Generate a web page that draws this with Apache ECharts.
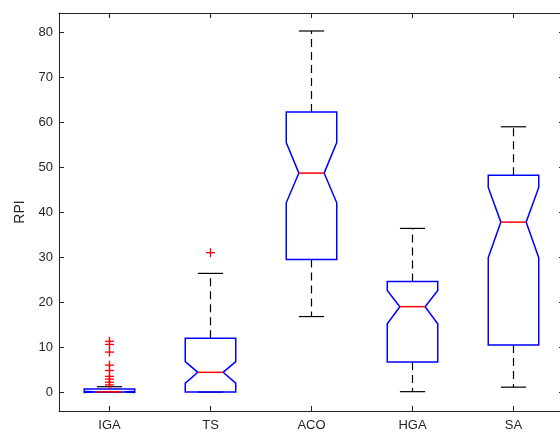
<!DOCTYPE html>
<html>
<head>
<meta charset="utf-8">
<script src="https://cdn.jsdelivr.net/npm/echarts@6/dist/echarts.min.js"></script>
<style>html,body{margin:0;padding:0;background:#fff}#c{width:560px;height:434px}</style>
</head>
<body>
<div id="c"></div>
<script>
const categories = ['IGA', 'TS', 'ACO', 'HGA', 'SA'];
const whiskerLow = [0, 0, 16.8, 0.1, 1.1];
const q1 = [0, 0, 29.5, 6.7, 10.5];
const notchLow = [-0.1, 2.0, 42.1, 15.2, 29.9];
const median = [0.05, 4.4, 48.7, 19.0, 37.8];
const notchHigh = [0.2, 6.8, 55.5, 22.6, 45.5];
const q3 = [0.7, 12.0, 62.3, 24.6, 48.2];
const whiskerHigh = [1.2, 26.4, 80.3, 36.4, 59.0];
const outlierCat = ['IGA','IGA','IGA','IGA','IGA','IGA','IGA','IGA','IGA','TS'];
const outlierVal = [11.3, 10.6, 8.9, 6.0, 4.8, 3.5, 2.9, 2.2, 1.6, 31.0];
const yTicks = [0, 10, 20, 30, 40, 50, 60, 70, 80];

const boxData = categories.map((c, i) => [i, whiskerLow[i], q1[i], notchLow[i], median[i], notchHigh[i], q3[i], whiskerHigh[i]]);
const outData = outlierCat.map((c, i) => [categories.indexOf(c), outlierVal[i]]);

const axisColor = '#262626';
const font = 'Liberation Sans, Arial, Helvetica, sans-serif';

function renderBox(params, api) {
  const idx = api.value(0);
  const lo = api.coord([idx, api.value(1)]);
  const b1 = api.coord([idx, api.value(2)]);
  const nl = api.coord([idx, api.value(3)]);
  const md = api.coord([idx, api.value(4)]);
  const nh = api.coord([idx, api.value(5)]);
  const b3 = api.coord([idx, api.value(6)]);
  const hi = api.coord([idx, api.value(7)]);
  const band = api.size([1, 0])[0];
  const x = md[0];
  const hw = band * 0.25;
  const nw = band * 0.125;
  const cw = band * 0.125;
  const dash = { stroke: '#000', lineWidth: 1.2, lineDash: [8, 5] };
  const solid = { stroke: '#000', lineWidth: 1.2 };
  const children = [
    { type: 'line', shape: { x1: x, y1: b3[1], x2: x, y2: hi[1] }, style: dash },
    { type: 'line', shape: { x1: x, y1: b1[1], x2: x, y2: lo[1] }, style: dash },
    { type: 'line', shape: { x1: x - cw, y1: hi[1], x2: x + cw, y2: hi[1] }, style: solid },
    { type: 'line', shape: { x1: x - cw, y1: lo[1], x2: x + cw, y2: lo[1] }, style: solid },
    { type: 'polygon', shape: { points: [
        [x - hw, b1[1]], [x - hw, nl[1]], [x - nw, md[1]], [x - hw, nh[1]], [x - hw, b3[1]],
        [x + hw, b3[1]], [x + hw, nh[1]], [x + nw, md[1]], [x + hw, nl[1]], [x + hw, b1[1]]
      ] }, style: { fill: 'none', stroke: '#0000ff', lineWidth: 1.5 } },
    { type: 'line', shape: { x1: x - nw, y1: md[1], x2: x + nw, y2: md[1] }, style: { stroke: '#ff0000', lineWidth: 1.5 } }
  ];
  return { type: 'group', children };
}

function renderPlus(params, api) {
  const p = api.coord([api.value(0), api.value(1)]);
  const s = 4.5;
  return { type: 'group', children: [
    { type: 'line', shape: { x1: p[0] - s, y1: p[1], x2: p[0] + s, y2: p[1] }, style: { stroke: '#ff0000', lineWidth: 1.3 } },
    { type: 'line', shape: { x1: p[0], y1: p[1] - s, x2: p[0], y2: p[1] + s }, style: { stroke: '#ff0000', lineWidth: 1.3 } }
  ] };
}

const chart = echarts.init(document.getElementById('c'), null, { renderer: 'canvas' });
const yCommon = {
  type: 'value', min: -4.2, max: 84.3,
  splitLine: { show: false },
  axisLine: { show: true, lineStyle: { color: axisColor, width: 1 } },
  axisTick: { show: true, inside: true, length: 5, customValues: yTicks, lineStyle: { color: axisColor } }
};
chart.setOption({
  animation: false,
  backgroundColor: '#fff',
  grid: { left: 59, top: 13, width: 505, height: 398, containLabel: false, outerBoundsMode: 'none' },
  xAxis: [
    { type: 'category', data: categories, position: 'bottom',
      axisLine: { show: true, onZero: false, lineStyle: { color: axisColor, width: 1 } },
      axisTick: { show: true, inside: true, length: 5, alignWithLabel: true, lineStyle: { color: axisColor } },
      axisLabel: { color: axisColor, fontSize: 13, fontFamily: font, margin: 8 },
      splitLine: { show: false } },
    { type: 'category', data: categories, position: 'top',
      axisLine: { show: true, onZero: false, lineStyle: { color: axisColor, width: 1 } },
      axisTick: { show: true, inside: true, length: 5, alignWithLabel: true, lineStyle: { color: axisColor } },
      axisLabel: { show: false }, splitLine: { show: false } }
  ],
  yAxis: [
    Object.assign({}, yCommon, { position: 'left', name: 'RPI', nameLocation: 'middle', nameGap: 30,
      nameTextStyle: { color: axisColor, fontSize: 14, fontFamily: font },
      axisLabel: { color: axisColor, fontSize: 13, fontFamily: font, margin: 6, customValues: yTicks } }),
    Object.assign({}, yCommon, { position: 'right', axisLabel: { show: false } })
  ],
  series: [
    { type: 'custom', xAxisIndex: 0, yAxisIndex: 0, data: boxData, renderItem: renderBox, clip: false },
    { type: 'custom', xAxisIndex: 0, yAxisIndex: 0, data: outData, renderItem: renderPlus, clip: false, z: 3 }
  ]
});
</script>
</body>
</html>
